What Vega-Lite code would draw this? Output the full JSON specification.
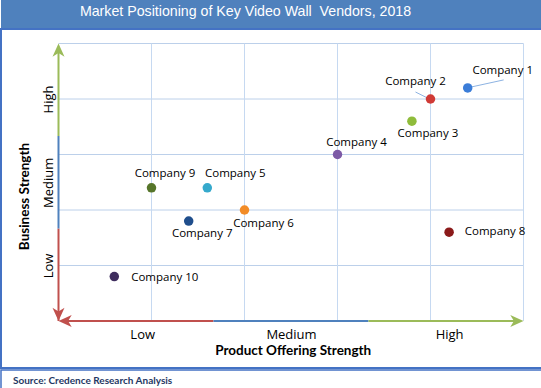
{
  "$schema": "https://vega.github.io/schema/vega-lite/v6.json",
  "padding": 0,
  "background": "white",
  "columns": 1,
  "spacing": 0,
  "datasets": {
    "companies": [
      {"company": "Company 1", "product": 4.4, "business": 4.2},
      {"company": "Company 2", "product": 4.0, "business": 4.0},
      {"company": "Company 3", "product": 3.8, "business": 3.6},
      {"company": "Company 4", "product": 3.0, "business": 3.0},
      {"company": "Company 5", "product": 1.6, "business": 2.4},
      {"company": "Company 6", "product": 2.0, "business": 2.0},
      {"company": "Company 7", "product": 1.4, "business": 1.8},
      {"company": "Company 8", "product": 4.2, "business": 1.6},
      {"company": "Company 9", "product": 1.0, "business": 2.4},
      {"company": "Company 10", "product": 0.6, "business": 0.8}
    ],
    "hGrid": [
      {"business": 1, "product": 0, "product2": 5},
      {"business": 2, "product": 0, "product2": 5},
      {"business": 3, "product": 0, "product2": 5},
      {"business": 4, "product": 0, "product2": 5},
      {"business": 5, "product": 0, "product2": 5}
    ],
    "vGrid": [
      {"product": 1, "business": 0, "business2": 5},
      {"product": 2, "business": 0, "business2": 5},
      {"product": 3, "business": 0, "business2": 5},
      {"product": 4, "business": 0, "business2": 5},
      {"product": 5, "business": 0, "business2": 5}
    ],
    "axisSegments": [
      {"product": 0, "business": 0, "product2": 0, "business2": 1.6667, "level": "Low"},
      {"product": 0, "business": 1.6667, "product2": 0, "business2": 3.3333, "level": "Medium"},
      {"product": 0, "business": 3.3333, "product2": 0, "business2": 4.9, "level": "High"},
      {"product": 0.1, "business": 0, "product2": 1.6667, "business2": 0, "level": "Low"},
      {"product": 1.6667, "business": 0, "product2": 3.3333, "business2": 0, "level": "Medium"},
      {"product": 3.3333, "business": 0, "product2": 4.9, "business2": 0, "level": "High"}
    ],
    "arrowHeads": [
      {"product": 0, "business": 5, "dir": "up", "level": "High"},
      {"product": 0, "business": 0, "dir": "down", "level": "Low"},
      {"product": 0, "business": 0, "dir": "left", "level": "Low"},
      {"product": 5, "business": 0, "dir": "right", "level": "High"}
    ]
  },
  "concat": [
    {
      "width": 541,
      "height": 28,
      "view": {"fill": "#4f81bd", "stroke": null},
      "title": {
        "text": "Market Positioning of Key Video Wall \u00a0Vendors, 2018",
        "orient": "bottom",
        "anchor": "middle",
        "offset": -12,
        "baseline": "alphabetic",
        "dx": -26,
        "color": "#ffffff",
        "font": "Liberation Sans",
        "fontSize": 14.2,
        "fontWeight": "normal"
      },
      "data": {"values": [{"t": ""}]},
      "mark": {"type": "text"},
      "encoding": {"text": {"field": "t"}}
    },
    {
      "width": 541,
      "height": 339,
      "view": {"stroke": "#4472c4", "strokeWidth": 2},
      "data": {"name": "companies"},
      "encoding": {
        "x": {
          "field": "product",
          "type": "quantitative",
          "scale": {"domain": [-0.6183, 5.1989], "nice": false, "zero": false},
          "axis": {
            "title": "Product Offering Strength",
            "values": [0.9, 2.5, 4.2],
            "labelExpr": "datum.value == 0.9 ? 'Low' : datum.value == 2.5 ? 'Medium' : 'High'",
            "grid": false,
            "ticks": false,
            "domain": false,
            "offset": -47,
            "labelFont": "Open Sans",
            "labelFontSize": 13,
            "labelColor": "#000000",
            "labelPadding": 7,
            "labelOverlap": false,
            "labelFlush": false,
            "titleFont": "Lato",
            "titleFontSize": 13.5,
            "titleFontWeight": "bold",
            "titleColor": "#000000",
            "titleX": 291.7,
            "titleY": 29,
            "titleBaseline": "middle",
            "titleAlign": "center"
          }
        },
        "y": {
          "field": "business",
          "type": "quantitative",
          "scale": {"domain": [-0.8468, 5.2613], "nice": false, "zero": false},
          "axis": {
            "title": "Business Strength",
            "values": [1, 2.5, 4],
            "labelExpr": "datum.value == 1 ? 'Low' : datum.value == 2.5 ? 'Medium' : 'High'",
            "grid": false,
            "ticks": false,
            "domain": false,
            "offset": -57,
            "labelAngle": 270,
            "labelFont": "Open Sans",
            "labelFontSize": 13,
            "labelColor": "#000000",
            "labelPadding": 3,
            "labelOverlap": false,
            "labelFlush": false,
            "titleFont": "Lato",
            "titleFontSize": 13.5,
            "titleFontWeight": "bold",
            "titleColor": "#000000",
            "titleX": -34,
            "titleY": 167,
            "titleAngle": 270,
            "titleBaseline": "middle",
            "titleAlign": "center"
          }
        }
      },
      "resolve": {"scale": {"color": "independent"}},
      "layer": [
        {
          "data": {"name": "hGrid"},
          "mark": {"type": "rule", "color": "#bcd0ea", "strokeWidth": 1},
          "encoding": {"x2": {"field": "product2"}}
        },
        {
          "data": {"name": "vGrid"},
          "mark": {"type": "rule", "color": "#c6d9f1", "strokeWidth": 1},
          "encoding": {"y2": {"field": "business2"}}
        },
        {
          "data": {"name": "axisSegments"},
          "mark": {"type": "rule", "strokeWidth": 2},
          "encoding": {
            "x2": {"field": "product2"},
            "y2": {"field": "business2"},
            "color": {"field": "level", "type": "nominal", "scale": {"domain": ["Low", "Medium", "High"], "range": ["#c0504d", "#4f81bd", "#9bbb59"]}, "legend": null}
          }
        },
        {
          "data": {"name": "arrowHeads"},
          "mark": {"type": "point", "filled": true, "opacity": 1, "size": 576},
          "encoding": {
            "shape": {"field": "dir", "type": "nominal", "scale": {"domain": ["up", "down", "left", "right"], "range": ["M0,0L0.5,1.1L0,0.8L-0.5,1.1Z", "M0,0L0.5,-1.1L0,-0.8L-0.5,-1.1Z", "M0,0L1.1,0.5L0.8,0L1.1,-0.5Z", "M0,0L-1.1,0.5L-0.8,0L-1.1,-0.5Z"]}, "legend": null},
            "color": {"field": "level", "type": "nominal", "scale": {"domain": ["Low", "Medium", "High"], "range": ["#c0504d", "#4f81bd", "#9bbb59"]}, "legend": null}
          }
        },
        {
          "transform": [{"filter": "datum.company === 'Company 1'"}],
          "mark": {"type": "rule", "xOffset": 4, "yOffset": -1, "x2Offset": 36, "y2Offset": -8, "color": "#8db3e2", "strokeWidth": 1},
          "encoding": {"x2": {"field": "product"}, "y2": {"field": "business"}}
        },
        {
          "transform": [{"filter": "datum.company === 'Company 2'"}],
          "mark": {"type": "rule", "xOffset": -15, "yOffset": -7, "x2Offset": -3, "y2Offset": -1, "color": "#8db3e2", "strokeWidth": 1},
          "encoding": {"x2": {"field": "product"}, "y2": {"field": "business"}}
        },
        {
          "mark": {"type": "point", "filled": true, "opacity": 1, "size": 90, "shape": "circle"},
          "encoding": {
            "color": {
              "field": "company",
              "type": "nominal",
              "scale": {
                "domain": ["Company 1", "Company 2", "Company 3", "Company 4", "Company 5", "Company 6", "Company 7", "Company 8", "Company 9", "Company 10"],
                "range": ["#3b7dd8", "#d03a36", "#8fbc3b", "#7d5aa6", "#35a9cc", "#f28c28", "#1f4e8c", "#8b1a1a", "#56752a", "#3f2d5e"]
              },
              "legend": null
            }
          }
        },
        {
          "transform": [{"filter": "datum.company === 'Company 1'"}],
          "mark": {"type": "text", "dx": 35, "dy": -17, "font": "Open Sans", "fontSize": 11.5, "color": "#000000"},
          "encoding": {"text": {"field": "company"}}
        },
        {
          "transform": [{"filter": "datum.company === 'Company 2'"}],
          "mark": {"type": "text", "dx": -15, "dy": -17, "font": "Open Sans", "fontSize": 11.5, "color": "#000000"},
          "encoding": {"text": {"field": "company"}}
        },
        {
          "transform": [{"filter": "datum.company === 'Company 3'"}],
          "mark": {"type": "text", "dx": 16, "dy": 13, "font": "Open Sans", "fontSize": 11.5, "color": "#000000"},
          "encoding": {"text": {"field": "company"}}
        },
        {
          "transform": [{"filter": "datum.company === 'Company 4'"}],
          "mark": {"type": "text", "dx": 19, "dy": -12, "font": "Open Sans", "fontSize": 11.5, "color": "#000000"},
          "encoding": {"text": {"field": "company"}}
        },
        {
          "transform": [{"filter": "datum.company === 'Company 5'"}],
          "mark": {"type": "text", "dx": 28, "dy": -14, "font": "Open Sans", "fontSize": 11.5, "color": "#000000"},
          "encoding": {"text": {"field": "company"}}
        },
        {
          "transform": [{"filter": "datum.company === 'Company 6'"}],
          "mark": {"type": "text", "dx": 19, "dy": 14, "font": "Open Sans", "fontSize": 11.5, "color": "#000000"},
          "encoding": {"text": {"field": "company"}}
        },
        {
          "transform": [{"filter": "datum.company === 'Company 7'"}],
          "mark": {"type": "text", "dx": 13.5, "dy": 13, "font": "Open Sans", "fontSize": 11.5, "color": "#000000"},
          "encoding": {"text": {"field": "company"}}
        },
        {
          "transform": [{"filter": "datum.company === 'Company 8'"}],
          "mark": {"type": "text", "dx": 46, "dy": 0, "font": "Open Sans", "fontSize": 11.5, "color": "#000000"},
          "encoding": {"text": {"field": "company"}}
        },
        {
          "transform": [{"filter": "datum.company === 'Company 9'"}],
          "mark": {"type": "text", "dx": 13.5, "dy": -14, "font": "Open Sans", "fontSize": 11.5, "color": "#000000"},
          "encoding": {"text": {"field": "company"}}
        },
        {
          "transform": [{"filter": "datum.company === 'Company 10'"}],
          "mark": {"type": "text", "dx": 50.5, "dy": 1, "font": "Open Sans", "fontSize": 11.5, "color": "#000000"},
          "encoding": {"text": {"field": "company"}}
        }
      ]
    },
    {
      "width": 541,
      "height": 21,
      "view": {"stroke": "#4472c4", "strokeWidth": 1.5, "fill": "#ffffff"},
      "title": {
        "text": "Source: Credence Research Analysis",
        "orient": "bottom",
        "anchor": "start",
        "offset": -10.5,
        "baseline": "middle",
        "dx": 12,
        "color": "#1f3864",
        "font": "Lato",
        "fontSize": 10,
        "fontWeight": "bold"
      },
      "data": {"values": [{"t": ""}]},
      "mark": {"type": "text"},
      "encoding": {"text": {"field": "t"}}
    }
  ]
}
